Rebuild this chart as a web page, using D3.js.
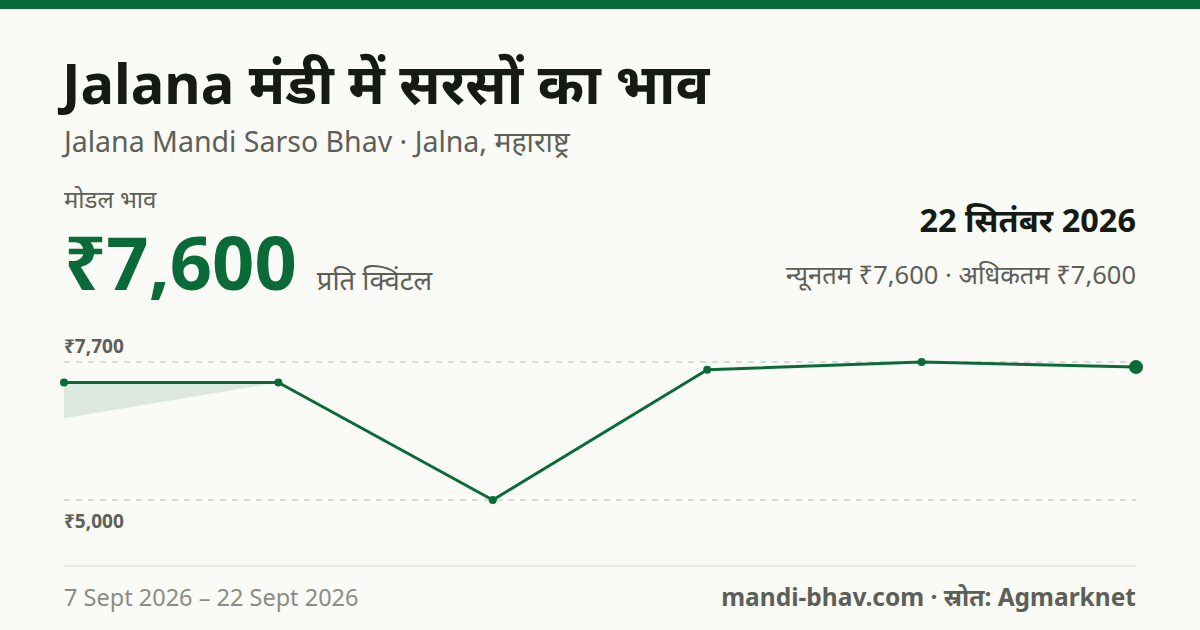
<!DOCTYPE html>
<html>
<head>
<meta charset="utf-8">
<script src="https://d3js.org/d3.v7.min.js"></script>
<style>
  html, body { margin: 0; padding: 0; background: #fafaf6; }
  svg { display: block; font-family: "Noto Sans", "Noto Sans Devanagari", "Open Sans", sans-serif; }
</style>
</head>
<body>
<div id="card"></div>
<script>
// data
const dates = ["2026-09-07", "2026-09-10", "2026-09-13", "2026-09-16", "2026-09-19", "2026-09-22"];
const modalPrices = [7300, 7300, 5000, 7550, 7700, 7600];
const minPrices = [6600, 7300, 5000, 7550, 7700, 7600];
const maxPrices = [7300, 7300, 5000, 7550, 7700, 7600];
const tickValues = [5000, 7700];

const width = 1200, height = 630;
const green = "#0b6b38";

const svg = d3.select("#card").append("svg")
  .attr("width", width)
  .attr("height", height);

svg.append("rect").attr("width", width).attr("height", height).attr("fill", "#fafaf6");
svg.append("rect").attr("width", width).attr("height", 9).attr("fill", green);

// header texts
svg.append("text")
  .attr("x", 62).attr("y", 104)
  .attr("font-size", 56).attr("font-weight", 700)
  .attr("fill", "#161a14")
  .text("Jalana मंडी में सरसों का भाव");

svg.append("text")
  .attr("x", 64).attr("y", 152)
  .attr("font-size", 28.5)
  .attr("fill", "#5d6058")
  .text("Jalana Mandi Sarso Bhav · Jalna, महाराष्ट्र");

svg.append("text")
  .attr("x", 64).attr("y", 208)
  .attr("font-size", 24)
  .attr("fill", "#5d6058")
  .text("मोडल भाव");

const big = svg.append("text")
  .attr("x", 64).attr("y", 290)
  .attr("font-size", 74).attr("font-weight", 700)
  .attr("fill", green)
  .text("₹" + d3.format(",")(modalPrices[modalPrices.length - 1]));

const bigW = big.node().getComputedTextLength();
svg.append("text")
  .attr("x", 64 + bigW + 20).attr("y", 290)
  .attr("font-size", 27.5)
  .attr("fill", "#5d6058")
  .text("प्रति क्विंटल");

svg.append("text")
  .attr("x", 1136).attr("y", 232)
  .attr("text-anchor", "end")
  .attr("font-size", 32.5).attr("font-weight", 700)
  .attr("fill", "#161a14")
  .text("22 सितंबर 2026");

svg.append("text")
  .attr("x", 1136).attr("y", 284)
  .attr("text-anchor", "end")
  .attr("font-size", 25.5)
  .attr("fill", "#5d6058")
  .text("न्यूनतम ₹7,600 · अधिकतम ₹7,600");

// chart
const parse = d3.timeParse("%Y-%m-%d");
const points = dates.map((d, i) => ({
  date: parse(d), modal: modalPrices[i], min: minPrices[i], max: maxPrices[i]
}));

const x = d3.scaleTime()
  .domain(d3.extent(points, d => d.date))
  .range([64, 1136]);

const y = d3.scaleLinear()
  .domain([5000, 7700])
  .range([500, 362]);

// gridlines
svg.selectAll(".grid")
  .data(tickValues)
  .enter().append("line")
  .attr("class", "grid")
  .attr("x1", 64).attr("x2", 1136)
  .attr("y1", d => y(d)).attr("y2", d => y(d))
  .attr("stroke", "#b9bab3")
  .attr("stroke-width", 1.2)
  .attr("stroke-dasharray", "6,6");

svg.selectAll(".ylab")
  .data(tickValues)
  .enter().append("text")
  .attr("class", "ylab")
  .attr("x", 64)
  .attr("y", d => d === 7700 ? y(d) - 9 : y(d) + 28)
  .attr("font-size", 19).attr("font-weight", 700)
  .attr("fill", "#5d6058")
  .text(d => "₹" + d3.format(",")(d));

// min-max band
svg.append("path")
  .datum(points)
  .attr("fill", green)
  .attr("fill-opacity", 0.12)
  .attr("d", d3.area()
    .x(d => x(d.date))
    .y0(d => y(d.min))
    .y1(d => y(d.max)));

// modal line
svg.append("path")
  .datum(points)
  .attr("fill", "none")
  .attr("stroke", green)
  .attr("stroke-width", 3)
  .attr("stroke-linejoin", "round")
  .attr("d", d3.line()
    .x(d => x(d.date))
    .y(d => y(d.modal)));

svg.selectAll(".dot")
  .data(points)
  .enter().append("circle")
  .attr("class", "dot")
  .attr("cx", d => x(d.date))
  .attr("cy", d => y(d.modal))
  .attr("r", (d, i) => i === points.length - 1 ? 7 : 4)
  .attr("fill", green);

// footer
svg.append("line")
  .attr("x1", 64).attr("x2", 1136)
  .attr("y1", 566).attr("y2", 566)
  .attr("stroke", "#e2e2dc")
  .attr("stroke-width", 1.5);

svg.append("text")
  .attr("x", 64).attr("y", 606)
  .attr("font-size", 23.5)
  .attr("fill", "#8a8d85")
  .text("7 Sept 2026 – 22 Sept 2026");

svg.append("text")
  .attr("x", 1136).attr("y", 606)
  .attr("text-anchor", "end")
  .attr("font-size", 24.5).attr("font-weight", 700)
  .attr("fill", "#5d6058")
  .text("mandi-bhav.com · स्रोत: Agmarknet");
</script>
</body>
</html>
